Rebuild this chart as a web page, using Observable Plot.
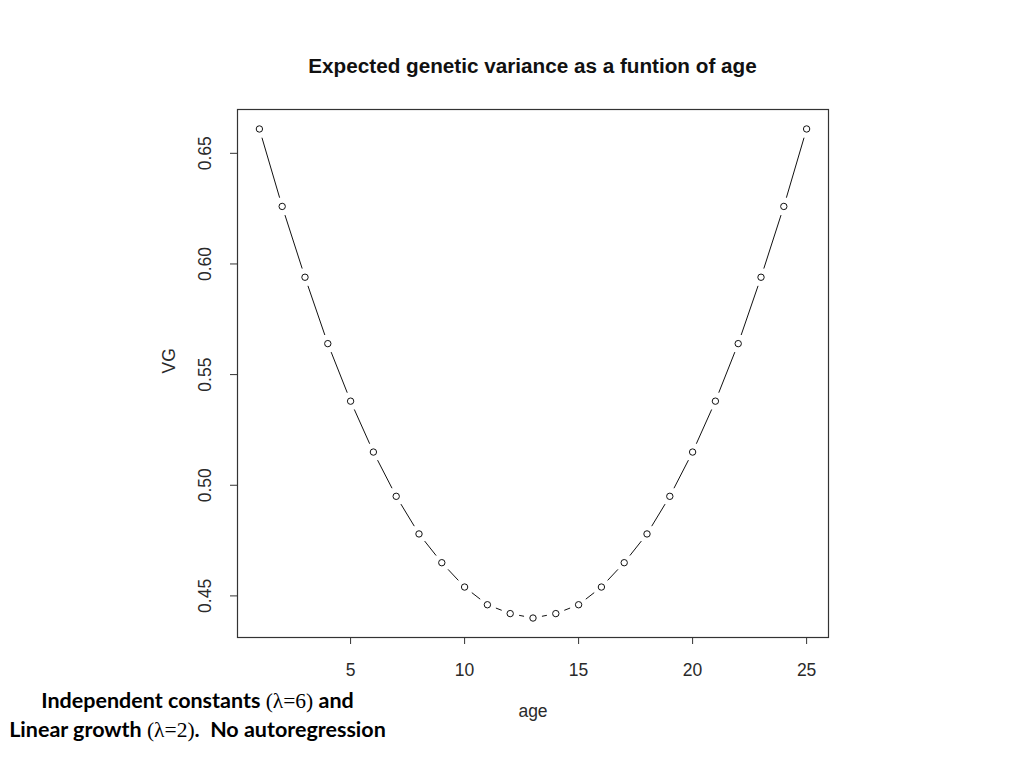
<!DOCTYPE html>
<html>
<head>
<meta charset="utf-8">
<script src="https://cdn.jsdelivr.net/npm/d3@7"></script>
<script src="https://cdn.jsdelivr.net/npm/@observablehq/plot@0.6"></script>
<style>
  html, body { margin: 0; padding: 0; background: #fff; }
  #wrap { position: relative; width: 1024px; height: 768px; overflow: hidden; }
  #title { position: absolute; left: 237px; width: 591px; top: 55px; text-align: center;
           font-family: "Liberation Sans", Arial, sans-serif; font-weight: bold; font-size: 20.7px; line-height: 21px; color: #111; }
  #caption { position: absolute; left: 0px; width: 395px; top: 686px; text-align: center;
             font-family: Lato, "Open Sans", sans-serif; font-weight: bold; font-size: 21.5px; line-height: 28px; color: #000; }
  #caption .m { font-family: "Liberation Serif", serif; font-weight: normal; }
  #chart { position: absolute; left: 0; top: 0; }
</style>
</head>
<body>
<div id="wrap">
  <div id="chart"></div>
  <div id="title">Expected genetic variance as a funtion of age</div>
  <div id="caption">Independent constants <span class="m">(λ=6)</span> and<br>Linear growth <span class="m">(λ=2)</span>.&nbsp; No autoregression</div>
</div>
<script>
// Data
const ages = [1, 2, 3, 4, 5, 6, 7, 8, 9, 10, 11, 12, 13, 14, 15, 16, 17, 18, 19, 20, 21, 22, 23, 24, 25];
const vg = [0.661, 0.626, 0.594, 0.564, 0.538, 0.515, 0.495, 0.478, 0.465, 0.454, 0.446, 0.442, 0.440,
            0.442, 0.446, 0.454, 0.465, 0.478, 0.495, 0.515, 0.538, 0.564, 0.594, 0.626, 0.661];
const xTicks = [5, 10, 15, 20, 25];
const yTicks = [0.45, 0.50, 0.55, 0.60, 0.65];

const points = ages.map((a, i) => ({age: a, vg: vg[i]}));
const segs = points.slice(1).map((p, i) => ({x1: points[i].age, y1: points[i].vg, x2: p.age, y2: p.vg}));

const font = '"Liberation Sans", Arial, sans-serif';

const chart = Plot.plot({
  width: 1024,
  height: 768,
  marginLeft: 237,
  marginRight: 196,
  marginTop: 109,
  marginBottom: 131,
  style: {fontFamily: font, fontSize: "17px", color: "#222", background: "transparent"},
  x: {domain: [0.04, 25.96]},
  y: {domain: [0.4312, 0.6698]},
  marks: [
    Plot.frame({stroke: "#333", strokeWidth: 1.2}),
    Plot.axisX({ticks: xTicks, tickSize: 7, tickPadding: 19, tickFormat: d3.format("d"), label: null, stroke: "#333", fill: "#2a2a2a", fontSize: 17.5}),
    Plot.axisY({ticks: yTicks, tickSize: 7, tickPadding: 20, tickRotate: -90, textAnchor: "middle",
                tickFormat: d3.format(".2f"), label: null, stroke: "#333", fill: "#2a2a2a", fontSize: 17.5}),
    Plot.text(["age"], {frameAnchor: "bottom", dy: 79, text: d => d, fill: "#2a2a2a", fontSize: 17.5}),
    Plot.text(["VG"], {frameAnchor: "left", dx: -68, rotate: -90, text: d => d, fill: "#2a2a2a", fontSize: 17.5}),
    Plot.arrow(segs, {x1: "x1", y1: "y1", x2: "x2", y2: "y2", headLength: 0, insetStart: 9.5, insetEnd: 9.5, stroke: "#111", strokeWidth: 1}),
    Plot.dot(points, {x: "age", y: "vg", r: 3.2, stroke: "#111", fill: "none", strokeWidth: 1})
  ]
});
document.getElementById("chart").appendChild(chart);
</script>
</body>
</html>
